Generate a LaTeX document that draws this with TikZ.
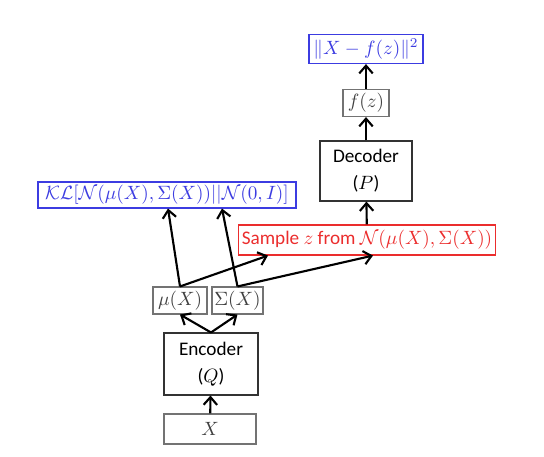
\documentclass[tikz,border=0pt]{standalone}
\usepackage{xcolor}
\usepackage{amsmath}
\usepackage{fontspec}
\newfontfamily\calibri{Carlito}
\usepackage{tikz}
\usetikzlibrary{arrows.meta,calc}
\definecolor{kblue}{RGB}{60,60,225}
\definecolor{kred}{RGB}{235,45,45}
\tikzset{
    boxnode/.style={align=center,inner sep=0pt,text centered,rectangle,line width=0.6pt},
    graynode/.style={boxnode,draw=black!55,text=black!75},
    bluenode/.style={boxnode,draw=kblue,text=kblue},
    rednode/.style={boxnode,draw=kred,text=kred,font=\calibri},
    blacknode/.style={boxnode,draw=black!80,font=\calibri}
}

\begin{document}
\begin{tikzpicture}[->,>={Straight Barb[length=4pt,width=7pt]},x=0.52pt,y=-0.52pt,line width=1.1pt]

\useasboundingbox (0,0) rectangle (544,456);

\node[graynode,minimum width=47.8pt,minimum height=15.6pt] (X) at (210,429) {$X$};
\node[blacknode,minimum width=48.9pt,minimum height=32.2pt] (Enc) at (211,364) {Encoder\\[2pt]($Q$)};
\node[graynode,minimum width=28.1pt,minimum height=14pt] (Mu) at (180,300.5) {$\mu(X)$};
\node[graynode,minimum width=26.5pt,minimum height=14pt] (Sig) at (237.5,300.5) {$\Sigma(X)$};
\node[bluenode,minimum width=134.2pt,minimum height=13.5pt] (KL) at (167,195)
    {$\mathcal{KL}[\mathcal{N}(\mu(X),\Sigma(X))||\mathcal{N}(0,I)]$};
\node[rednode,minimum width=133.6pt,minimum height=15.6pt] (Smp) at (367,240)
    {Sample $z$ from $\mathcal{N}(\mu(X),\Sigma(X))$};
\node[blacknode,minimum width=47.8pt,minimum height=31.2pt] (Dec) at (366,171) {Decoder\\[2pt]($P$)};
\node[graynode,minimum width=23.9pt,minimum height=14pt] (Fz) at (366,103) {$f(z)$};
\node[bluenode,minimum width=59.3pt,minimum height=15.1pt] (Loss) at (366,49) {$\|X-f(z)\|^2$};

\path
(X)         edge (Enc)
(Enc.north) edge (Mu.south)
            edge (Sig.south)
(Mu.north)  edge ($(KL.south)+(1,0)$)
            edge ($(Smp.south)+(-99,0)$)
(Sig.north) edge ($(KL.south)+(55,0)$)
            edge ($(Smp.south)+(6,0)$)
(Smp)       edge (Dec)
(Dec)       edge (Fz)
(Fz)        edge (Loss);

\end{tikzpicture}
\end{document}
